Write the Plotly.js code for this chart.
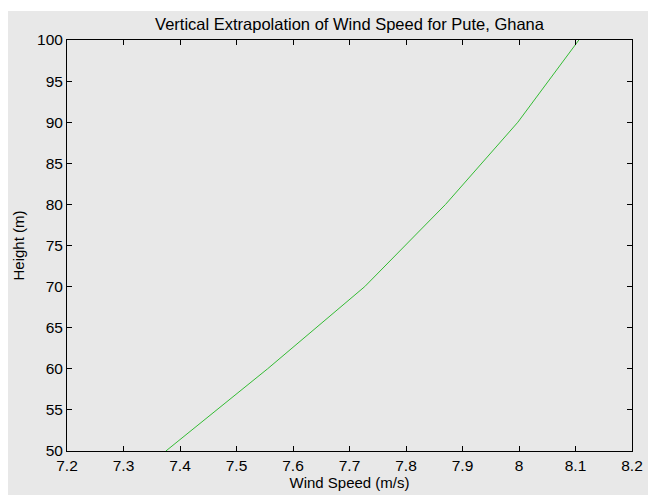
<!DOCTYPE html>
<html>
<head>
<meta charset="utf-8">
<script src="https://cdn.plot.ly/plotly-3.0.1.min.js"></script>
<style>
html, body { margin: 0; padding: 0; background: #ffffff; width: 648px; height: 495px; overflow: hidden; }
#chart { position: absolute; left: 8px; top: 11px; width: 640px; height: 484px; }
</style>
</head>
<body>
<div id="chart"></div>
<script>
const heights = [50, 60, 70, 80, 90, 100];
const windSpeed = [7.375, 7.555, 7.727, 7.870, 7.998, 8.106];
const xTicks = [7.2, 7.3, 7.4, 7.5, 7.6, 7.7, 7.8, 7.9, 8, 8.1, 8.2];
const yTicks = [50, 55, 60, 65, 70, 75, 80, 85, 90, 95, 100];

const font = 'Liberation Sans, Arial, Helvetica, sans-serif';
const bg = '#e8e8e8';

Plotly.newPlot('chart', [{
  x: windSpeed,
  y: heights,
  type: 'scatter',
  mode: 'lines',
  line: { color: '#33bb33', width: 1 },
  hoverinfo: 'skip'
}], {
  width: 640,
  height: 484,
  paper_bgcolor: bg,
  plot_bgcolor: bg,
  margin: { l: 59, r: 16, t: 29, b: 44 },
  showlegend: false,
  title: {
    text: 'Vertical Extrapolation of Wind Speed for Pute, Ghana',
    font: { family: font, size: 16.5, color: '#000' },
    x: 0.5, xref: 'paper', xanchor: 'center',
    y: 1, yref: 'paper', yanchor: 'bottom', pad: { b: 10 }
  },
  xaxis: {
    range: [7.2, 8.2],
    tickvals: xTicks,
    ticktext: xTicks.map(String),
    ticks: 'inside', ticklen: 5, tickwidth: 1, tickcolor: '#000',
    showline: true, linecolor: '#000', linewidth: 1, mirror: 'ticks',
    showgrid: false, zeroline: false,
    tickfont: { family: font, size: 15.5, color: '#000' },
    title: { text: 'Wind Speed (m/s)', font: { family: font, size: 15, color: '#000' }, standoff: 4 }
  },
  yaxis: {
    range: [50, 100],
    tickvals: yTicks,
    ticktext: yTicks.map(String),
    ticks: 'inside', ticklen: 5, tickwidth: 1, tickcolor: '#000',
    showline: true, linecolor: '#000', linewidth: 1, mirror: 'ticks',
    showgrid: false, zeroline: false,
    tickfont: { family: font, size: 15.5, color: '#000' },
    title: { text: 'Height (m)', font: { family: font, size: 15, color: '#000' }, standoff: 8 }
  }
}, { displayModeBar: false, staticPlot: true });
</script>
</body>
</html>
